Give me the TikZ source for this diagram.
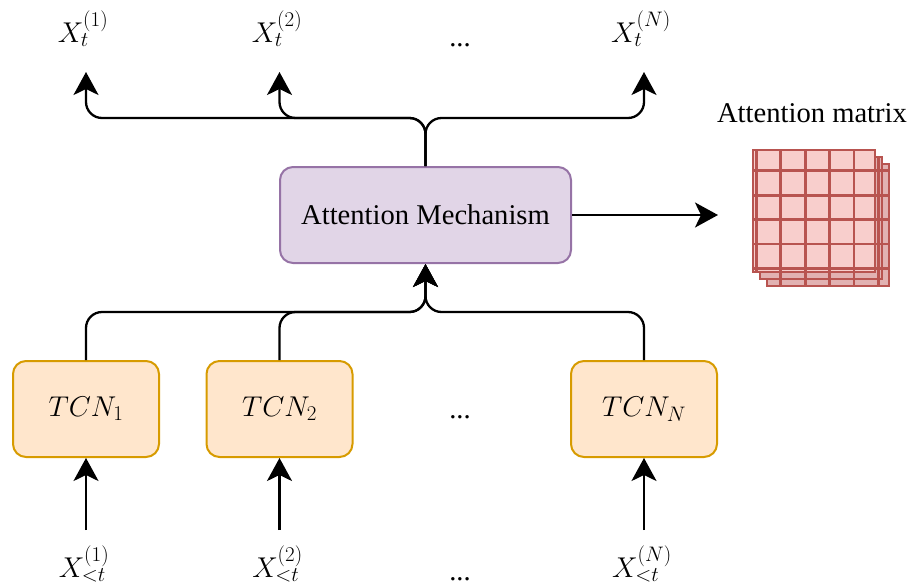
\RequirePackage{fix-cm}
\documentclass[tikz,border=0pt]{standalone}
\usepackage{fontspec}
\setmainfont{Liberation Serif}
\usetikzlibrary{arrows.meta}
\DeclareMathSizes{28.6}{28.6}{21}{15}
\definecolor{tcnfill}{HTML}{FFE6CC}
\definecolor{tcnline}{HTML}{D79B00}
\definecolor{attfill}{HTML}{E1D5E7}
\definecolor{attline}{HTML}{9673A6}
\definecolor{matfill}{HTML}{F8CECC}
\definecolor{matback}{HTML}{E2B2B2}
\definecolor{matline}{HTML}{B85450}
\tikzset{
  base/.style={font=\fontsize{28.6}{34}\selectfont, inner sep=0pt},
  tcnbox/.style={base, draw=tcnline, fill=tcnfill, line width=2pt, rounded corners=13pt,
    minimum width=146pt, minimum height=96pt},
  attbox/.style={base, draw=attline, fill=attfill, line width=2pt, rounded corners=13pt,
    minimum width=291pt, minimum height=96pt},
  lbl/.style={base, anchor=base},
  arr/.style={line width=2.3pt, rounded corners=16pt,
    -{Stealth[length=23pt, width=25pt, inset=6pt]}},
  grid/.style={draw=matline, line width=2.8pt}
}
\begin{document}
\begin{tikzpicture}[x=1pt, y=-1pt]
\useasboundingbox (0,0) rectangle (913,587);

% processing blocks
\node[tcnbox] (t1) at (86,409) {$TCN_1$};
\node[tcnbox] (t2) at (279.5,409) {$TCN_2$};
\node[tcnbox] (tN) at (644,409) {$TCN_N$};
\node[lbl] (dm) at (460,418) {...};
\node[attbox] (att) at (425.5,215) {Attention Mechanism};

% inputs
\node[lbl] (i1) at (84,577) {$X_{<t}^{(1)}$};
\node[lbl] (i2) at (277.5,577) {$X_{<t}^{(2)}$};
\node[lbl] (iN) at (642,577) {$X_{<t}^{(N)}$};
\node[lbl] (di) at (460,580) {...};
\coordinate (s1) at (86,530);
\coordinate (s2) at (279.5,530);
\coordinate (sN) at (644,530);

% outputs
\node[lbl] (o1) at (83,42) {$X_{t}^{(1)}$};
\node[lbl] (o2) at (277,42) {$X_{t}^{(2)}$};
\node[lbl] (oN) at (641,42) {$X_{t}^{(N)}$};
\node[lbl] (do) at (460,46) {...};
\coordinate (e1) at (86,72);
\coordinate (e2) at (279.5,72);
\coordinate (eN) at (644,72);

% input arrows
\draw[arr] (s1) -- (t1.south);
\draw[arr] (s2) -- (t2.south);
\draw[arr] (sN) -- (tN.south);

% merge into attention
\draw[arr] (t1.north) -- (86,312) -| (att.south);
\draw[arr] (t2.north) -- (279.5,312) -| (att.south);
\draw[arr] (tN.north) -- (644,312) -| (att.south);

% split to outputs
\draw[arr] (att.north) -- (425.5,118) -| (e1);
\draw[arr] (att.north) -- (425.5,118) -| (e2);
\draw[arr] (att.north) -- (425.5,118) -| (eN);

% attention matrix
\coordinate (mx) at (718,215);
\draw[arr] (att.east) -- (mx);
\node[lbl] (mt) at (812,122) {Attention matrix};
\foreach \o/\c in {14/matback, 7/matback, 0/matfill} {
  \fill[\c] (753+\o,150+\o) rectangle (875+\o,272+\o);
  \draw[grid] (753+\o,150+\o) grid[step=24.4pt] (875+\o,272+\o);
  \draw[grid] (753+\o,150+\o) rectangle (875+\o,272+\o);
}
\end{tikzpicture}
\end{document}
